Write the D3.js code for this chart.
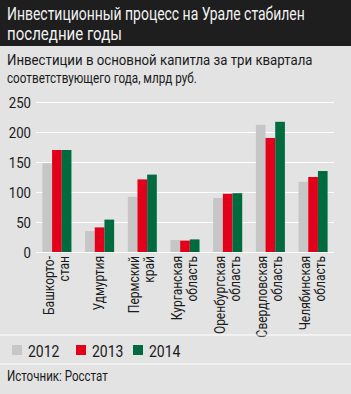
<!DOCTYPE html>
<html>
<head>
<meta charset="utf-8">
<script src="https://cdn.jsdelivr.net/npm/d3@7"></script>
<style>
  body { margin: 0; background: #e3e3e3; }
  svg text { font-family: Roboto, "Liberation Sans", sans-serif; }
</style>
</head>
<body>
<div id="chart"></div>
<script>
// data
const regions = [
  ['Башкорто-', 'стан'],
  ['Удмуртия'],
  ['Пермский', 'край'],
  ['Курганская', 'область'],
  ['Оренбургская', 'область'],
  ['Свердловская', 'область'],
  ['Челябинская', 'область']
];
const years = ['2012', '2013', '2014'];
const v2012 = [148, 35, 92, 20, 90, 212, 117];
const v2013 = [170, 41, 121, 19, 97, 190, 125];
const v2014 = [170, 54, 129, 21, 98, 217, 135];
const yTicks = [0, 50, 100, 150, 200, 250];

const colors = ['#c6c6c6', '#e2001a', '#006b3f'];
const width = 351, height = 394;

// the original uses a narrow face, so texts are squeezed with a scale
// placed at (px, py), optional rotation, horizontal factor k
function squeeze(sel, px, py, k, rot) {
  sel.attr('x', 0).attr('y', 0)
    .attr('transform', 'translate(' + px + ',' + py + ')' + (rot ? ' rotate(' + rot + ')' : '') + ' scale(' + k + ',1)');
}
function kFor(node, w) {
  return w / node.getComputedTextLength();
}

const svg = d3.select('#chart').append('svg')
  .attr('width', width)
  .attr('height', height);

svg.append('rect').attr('width', width).attr('height', height).attr('fill', '#e3e3e3');

// title
svg.append('rect').attr('width', width).attr('height', 46).attr('fill', '#1e1e1e');
const title = ['Инвестиционный процесс на Урале стабилен', 'последние годы'];
const titleW = [298, 115];
svg.selectAll('text.title').data(title).enter().append('text')
  .attr('class', 'title')
  .attr('fill', '#f2f2f2')
  .attr('font-size', 17.5)
  .text(d => d)
  .each(function(d, i) { squeeze(d3.select(this), 7, 20 + i * 20, kFor(this, titleW[i])); });

const sub = ['Инвестиции в основной капитла за три квартала', 'соответствующего года, млрд руб.'];
const subW = [306, 190];
svg.selectAll('text.sub').data(sub).enter().append('text')
  .attr('class', 'sub')
  .attr('fill', '#1a1a1a')
  .attr('font-size', 15)
  .text(d => d)
  .each(function(d, i) { squeeze(d3.select(this), 7, 65 + i * 18, kFor(this, subW[i])); });

const x = d3.scaleBand()
  .domain(d3.range(regions.length))
  .range([36, 334])
  .paddingInner(0.32)
  .paddingOuter(0.15);

const xs = d3.scaleBand()
  .domain(years)
  .range([0, x.bandwidth()]);

const y = d3.scaleLinear().domain([0, 250]).range([252, 102]);

// grid
const yAxis = d3.axisLeft(y).tickValues(yTicks).tickSize(-298).tickPadding(5);
const gy = svg.append('g')
  .attr('transform', 'translate(36,0)')
  .call(yAxis);
gy.select('.domain').remove();
gy.selectAll('.tick line').attr('stroke', '#ffffff').attr('stroke-width', 1.2);
gy.selectAll('.tick text')
  .attr('font-size', 15).attr('fill', '#1a1a1a').attr('dy', '0.36em')
  .each(function() { squeeze(d3.select(this), -5, 0, 0.88); });

const series = [v2012, v2013, v2014];
const groups = svg.append('g').selectAll('g')
  .data(regions)
  .enter().append('g')
  .attr('transform', (d, i) => 'translate(' + x(i) + ',0)');

groups.selectAll('rect')
  .data((d, i) => series.map((s, k) => ({ year: years[k], value: s[i], k: k })))
  .enter().append('rect')
  .attr('x', d => xs(d.year))
  .attr('width', xs.bandwidth())
  .attr('y', d => y(d.value))
  .attr('height', d => y(0) - y(d.value))
  .attr('fill', d => colors[d.k]);

// category labels, rotated
groups.each(function(d) {
  const g = d3.select(this);
  const cx = x.bandwidth() / 2;
  const n = d.length;
  d.forEach((line, j) => {
    const off = (j - (n - 1) / 2) * 15 + 4.5;
    g.append('text')
      .attr('text-anchor', 'end')
      .attr('font-size', 15)
      .attr('fill', '#1a1a1a')
      .text(line)
      .call(squeeze, cx + off, 256, 0.8, -90);
  });
});

// separators
[335, 364].forEach(yy => {
  svg.append('line').attr('x1', 0).attr('x2', width)
    .attr('y1', yy).attr('y2', yy)
    .attr('stroke', '#ffffff').attr('stroke-width', 1.2);
});

// legend
const legendX = [12, 76, 133];
const leg = svg.append('g').selectAll('g').data(years).enter().append('g')
  .attr('transform', (d, i) => 'translate(' + legendX[i] + ',345)');
leg.append('rect').attr('width', 10).attr('height', 10).attr('fill', (d, i) => colors[i]);
leg.append('text').attr('font-size', 16.5).attr('fill', '#1a1a1a')
  .text(d => d)
  .call(squeeze, 16, 11.5, 0.85);

svg.append('text')
  .attr('font-size', 15)
  .attr('fill', '#1a1a1a')
  .text('Источник: Росстат')
  .each(function() { squeeze(d3.select(this), 7, 381, kFor(this, 101)); });
</script>
</body>
</html>
